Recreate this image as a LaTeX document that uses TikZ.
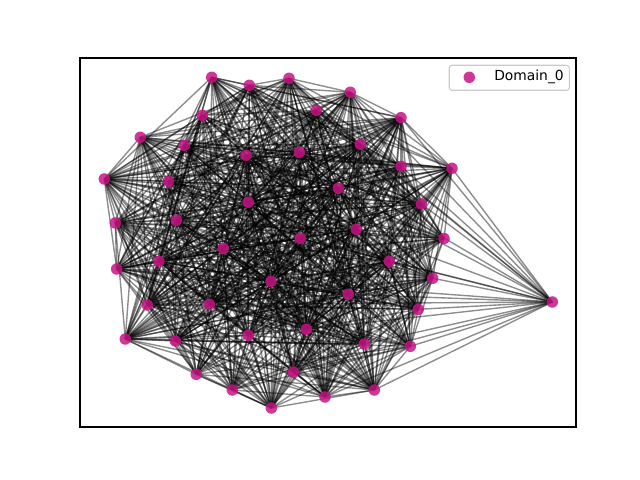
\documentclass[tikz,border=0pt]{standalone}
\usepackage{fontspec}
\setmainfont{DejaVu Sans}
\definecolor{nodecol}{RGB}{199,21,133}
\pgfdeclarelayer{edges}
\pgfsetlayers{edges,main}
\begin{document}
\begin{tikzpicture}[x=0.01in,y=-0.01in,
  dot/.style={circle,fill=nodecol,fill opacity=0.85,inner sep=0pt,minimum size=0.115in},
  edge/.style={draw=black,draw opacity=0.45,line width=1pt},
  frame/.style={draw=black,line width=0.8pt}]
\useasboundingbox (0,0) rectangle (640,480);
\foreach \k/\x/\y in {
1/211.7/77.3, 2/249.3/85.3, 3/289/78.3, 4/350.3/92.3, 5/316.3/110.3,
6/202.3/115.3, 7/401/117.7, 8/140.3/137.3, 9/184.3/145.3, 10/246/155.3,
11/299.3/152.3, 12/360.3/144.3, 13/452/168.3, 14/401/166.3, 15/104.3/179,
16/168.3/181.3, 17/338.3/188.3, 18/248.3/202.3, 19/421.3/204, 20/115.3/223,
21/176.3/220.3, 22/356.3/229.3, 23/444/238.5, 24/300.3/238.3, 25/223.3/248.5,
26/159/261.3, 27/389.3/261.3, 28/116.7/269, 29/432.7/278.3, 30/271/281.3,
31/348.3/294.3, 32/147.3/305, 33/209.3/304.3, 34/552.3/302, 35/418.3/309.3,
36/306.3/329.3, 37/248.3/335.3, 38/125.3/339, 39/175.3/341, 40/364.3/344,
41/410.3/346.3, 42/196.3/374.3, 43/293.3/372, 44/232.3/390, 45/374.3/390,
46/325/397, 47/271.3/408}
  \node[dot] (n\k) at (\x,\y) {};
\begin{pgfonlayer}{edges}
\foreach \i in {1,...,46}{
  \pgfmathtruncatemacro\s{\i+1}
  \foreach \j in {\s,...,47}{
    \pgfmathtruncatemacro\h{mod(mod(\i*\i,17)*3+mod(\j*\j,17)*7+mod(\i*\j,17)*5,17)}
    \ifnum\i=34\relax\else\ifnum\j=34\relax\else
      \ifnum\h<13\relax
        \draw[edge] (n\i.center) -- (n\j.center);
      \fi
    \fi\fi
  }
}
\foreach \j in {7,13,4,14,19,12,17,22,11,5,24,27,29,31,30,33,36,35,41,40,43,45,46}
  \draw[edge] (n34.center) -- (n\j.center);
\end{pgfonlayer}
\draw[frame] (80,58) rectangle (576,427);
\node[draw=black!20,fill=white,fill opacity=0.8,text opacity=1,rounded corners=2pt,line width=0.8pt,
  minimum width=1.2in,minimum height=0.25in,inner sep=0pt] (legend) at (509.3,77.8) {};
\node[dot] (lm) at (469.3,77.3) {};
\node[anchor=west,inner sep=0pt,font=\fontsize{10}{12}\selectfont] (lt) at (494,77.3) {Domain\_0};
\end{tikzpicture}
\end{document}
